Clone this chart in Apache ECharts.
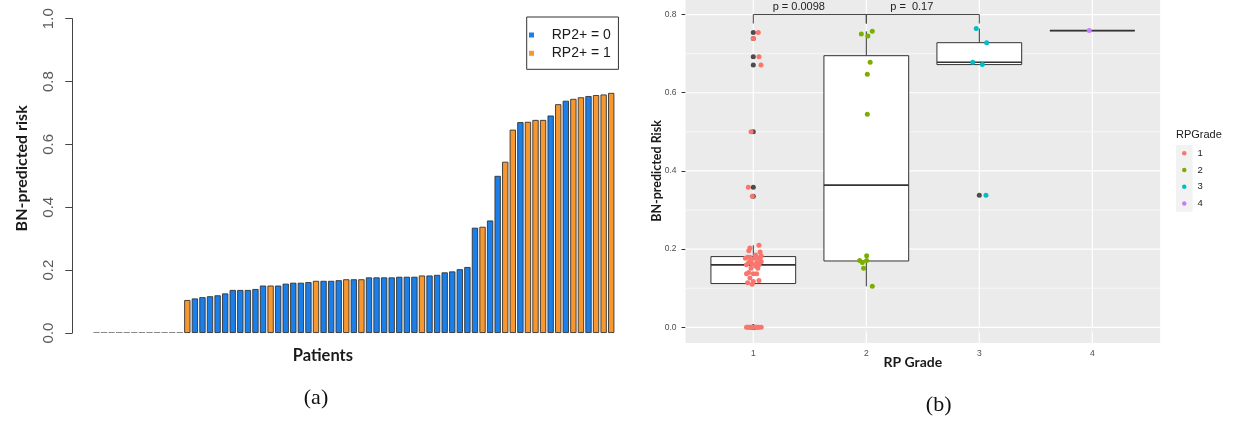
<!DOCTYPE html>
<html><head><meta charset="utf-8">
<script src="https://cdn.jsdelivr.net/npm/echarts@6/dist/echarts.min.js"></script>
<style>html,body{margin:0;padding:0;background:#fff}#c{width:1237px;height:422px}</style>
</head><body><div id="c"></div>
<script>
// ---------- DATA ----------
// BN-predicted risk of each patient, sorted ascending (panel a order)
const risk = [0,0,0,0,0,0,0,0,0,0,0,0,
  0.105,0.110,0.114,0.117,0.120,0.126,0.137,0.137,0.137,0.140,
  0.151,0.151,0.151,0.157,0.160,0.160,0.162,0.166,0.166,0.166,
  0.168,0.171,0.171,0.171,0.177,0.177,0.177,0.177,0.179,0.179,
  0.179,0.183,0.183,0.185,0.193,0.196,0.203,0.210,0.335,0.338,
  0.358,0.500,0.545,0.647,0.671,0.672,0.678,0.678,0.692,0.728,
  0.739,0.745,0.750,0.754,0.757,0.759,0.764];
// RP grade of each patient (same order)
const grade = [1,1,1,1,1,1,1,1,1,1,1,1,
  2,1,1,1,1,1,1,1,1,1,
  1,2,1,1,1,1,1,2,1,1,
  1,2,1,2,1,1,1,1,1,1,
  1,2,1,1,1,1,1,1,1,3,
  1,1,2,2,1,3,2,3,1,3,
  1,2,2,1,2,4,3];
// horizontal jitter of each point in panel b (category units)
const jitterX = [-0.06,-0.05,-0.04,-0.03,-0.02,-0.01,0.0,0.02,0.03,0.04,0.05,0.07,
  0.053,-0.01,-0.05,0.0,0.05,-0.03,-0.06,0.0,0.03,-0.04,
  0.04,-0.024,-0.02,0.02,-0.06,0.05,-0.01,-0.035,0.03,-0.04,
  0.07,-0.059,-0.02,0.003,0.05,-0.07,0.01,0.06,-0.03,0.03,
  -0.05,0.003,0.07,0.02,0.06,-0.04,-0.03,0.05,-0.009,0.059,
  -0.044,-0.02,0.009,0.009,0.068,0.027,0.034,-0.058,0.05,0.065,
  0.0,0.014,-0.044,0.044,0.053,-0.027,-0.027];
const legendA = ['RP2+ = 0', 'RP2+ = 1'];
const gradeNames = ['1', '2', '3', '4'];
const yTicksA = [0, 0.2, 0.4, 0.6, 0.8, 1.0];
const yTicksB = [0, 0.2, 0.4, 0.6, 0.8];
const yMinorB = [0.1, 0.3, 0.5, 0.7];
const xTicksB = [1, 2, 3, 4];
const comparisons = [[1, 2], [2, 3]];
const pLabels = ['p = 0.0098', 'p =  0.17'];
const bracketLevel = [0.8, 0.777];   // bracket line value, tip value

// ---------- STYLE ----------
const BLUE = '#1a7fe9', ORANGE = '#f7972f', ZERO = '#8a8a8a';
const gradeColors = ['#F8766D', '#7CAE00', '#00BFC4', '#C77CFF'];
const SANS = 'Liberation Sans', TITLE = 'Lato';

// ---------- DERIVED ----------
const patientIds = risk.map((_, i) => String(i + 1));
const bars0 = risk.map((v, i) => grade[i] < 2
  ? (v === 0 ? {value: 0, itemStyle: {color: ZERO, borderWidth: 0}} : v) : '-');
const bars1 = risk.map((v, i) => grade[i] >= 2 ? v : '-');

function q7(s, p) { const h = (s.length - 1) * p, lo = Math.floor(h), hi = Math.ceil(h); return s[lo] + (h - lo) * (s[hi] - s[lo]); }
function boxStats(vals) {
  const s = vals.slice().sort((a, b) => a - b);
  const q1 = q7(s, .25), med = q7(s, .5), q3 = q7(s, .75), iqr = q3 - q1;
  const lf = q1 - 1.5 * iqr - 1e-9, uf = q3 + 1.5 * iqr + 1e-9;
  const inside = s.filter(v => v >= lf && v <= uf);
  return {q1, med, q3, lo: Math.min(...inside), hi: Math.max(...inside), out: s.filter(v => v < lf || v > uf)};
}
const boxData = [], outData = [];
xTicksB.forEach(g => {
  const st = boxStats(risk.filter((v, i) => grade[i] === g));
  boxData.push([g, st.q1, st.med, st.q3, st.lo, st.hi]);
  st.out.forEach(v => outData.push([g, v]));
});
const jitterSeries = gradeNames.map((nm, k) => ({
  type: 'scatter', name: nm, xAxisIndex: 1, yAxisIndex: 1, z: 6,
  symbol: 'circle', symbolSize: 5, itemStyle: {color: gradeColors[k], opacity: 1},
  data: risk.map((v, i) => grade[i] === k + 1 ? [k + 1 + jitterX[i], v] : null).filter(d => d)
}));
const gridLineData = yTicksB.map(v => [0, v]).concat(yMinorB.map(v => [1, v]), xTicksB.map(v => [2, v]));
const bracketData = comparisons.map((c, k) => [c[0], c[1], bracketLevel[0], bracketLevel[1], k]);

const chart = echarts.init(document.getElementById('c'));
chart.setOption({
  animation: false,
  backgroundColor: '#fff',
  textStyle: {fontFamily: SANS},
  grid: [
    {left: 92.7, top: 18.7, width: 522.3, height: 314.3, outerBoundsMode: 'none'},
    {left: 685.5, top: -1.1, width: 474.6, height: 344.1, show: true, backgroundColor: '#EBEBEB', borderWidth: 0, outerBoundsMode: 'none'}
  ],
  xAxis: [
    {gridIndex: 0, type: 'category', data: patientIds,
     axisLine: {show: false}, axisTick: {show: false}, axisLabel: {show: false}, splitLine: {show: false},
     name: 'Patients', nameLocation: 'middle', nameGap: 14, nameMoveOverlap: false,
     nameTextStyle: {fontFamily: TITLE, fontWeight: 'bold', fontSize: 16.5, color: '#1a1a1a', padding: [0, 62, 0, 0]}},
    {gridIndex: 1, type: 'value', min: 0.4, max: 4.6,
     axisLine: {show: false}, splitLine: {show: false},
     axisTick: {show: true, customValues: xTicksB, length: 4, lineStyle: {color: '#333'}},
     axisLabel: {customValues: xTicksB, color: '#4d4d4d', fontSize: 8.5, margin: 6, formatter: v => String(v)},
     name: 'RP Grade', nameLocation: 'middle', nameGap: 12.5, nameMoveOverlap: false,
     nameTextStyle: {fontFamily: TITLE, fontWeight: 'bold', fontSize: 14, color: '#1a1a1a', padding: [0, 20, 0, 0]}}
  ],
  yAxis: [
    {gridIndex: 0, type: 'value', min: 0, max: 1, interval: 0.2, offset: 20.4,
     axisLine: {show: true, lineStyle: {color: '#444', width: 1}},
     axisTick: {show: true, length: 7, lineStyle: {color: '#444'}},
     axisLabel: {rotate: 90, margin: 16, color: '#5a5a5a', fontSize: 15, formatter: v => v.toFixed(1)},
     splitLine: {show: false},
     name: 'BN-predicted risk', nameLocation: 'middle', nameGap: 42, nameMoveOverlap: false,
     nameTextStyle: {fontFamily: TITLE, fontWeight: 'bold', fontSize: 16, color: '#1a1a1a', padding: [0, 0, 0, 15]}},
    {gridIndex: 1, type: 'value', min: -0.04, max: 0.84,
     axisLine: {show: false}, splitLine: {show: false},
     axisTick: {show: true, customValues: yTicksB, length: 4, lineStyle: {color: '#333'}},
     axisLabel: {customValues: yTicksB, color: '#4d4d4d', fontSize: 8.5, margin: 9, formatter: v => v.toFixed(1)},
     name: 'BN-predicted Risk', nameLocation: 'middle', nameGap: 22.5, nameMoveOverlap: false,
     nameTextStyle: {fontFamily: TITLE, fontWeight: 'bold', fontSize: 12.5, color: '#1a1a1a'}}
  ],
  legend: [
    {data: legendA, orient: 'vertical', left: 526.7, top: 17, padding: [10, 7.6, 8, 2.3],
     borderColor: '#333', borderWidth: 1, backgroundColor: '#fff',
     itemWidth: 5, itemHeight: 5, itemGap: 2.3, icon: 'rect', selectedMode: false,
     itemStyle: {borderWidth: 0},
     textStyle: {fontSize: 14, lineHeight: 16, color: '#1a1a1a', fontFamily: SANS, padding: [0, 0, 0, 12.7]}},
    {data: gradeNames, orient: 'vertical', left: 1182, top: 147.3,
     itemWidth: 4.5, itemHeight: 4.5, itemGap: 4.7, icon: 'circle', selectedMode: false, padding: 0,
     textStyle: {fontSize: 9.5, lineHeight: 12, color: '#1a1a1a', fontFamily: SANS, padding: [0, 0, 0, 6]}}
  ],
  graphic: [
    {type: 'rect', left: 1176, top: 145, shape: {width: 16.7, height: 66.8}, style: {fill: '#F2F2F2'}},
    {type: 'text', left: 1176, top: 129.5, style: {text: 'RPGrade', fontSize: 11, fill: '#1a1a1a', fontFamily: SANS}},
    {type: 'text', x: 316, y: 398, style: {text: '(a)', fontSize: 22, fill: '#111', fontFamily: 'Liberation Serif', align: 'center', verticalAlign: 'middle'}},
    {type: 'text', x: 938.7, y: 405, style: {text: '(b)', fontSize: 22, fill: '#111', fontFamily: 'Liberation Serif', align: 'center', verticalAlign: 'middle'}}
  ],
  series: [
    {type: 'bar', name: legendA[0], xAxisIndex: 0, yAxisIndex: 0, data: bars0,
     barGap: '-100%', barCategoryGap: '16.67%', barMinHeight: 1,
     itemStyle: {color: BLUE, borderColor: '#333', borderWidth: 0.9}},
    {type: 'bar', name: legendA[1], xAxisIndex: 0, yAxisIndex: 0, data: bars1,
     barGap: '-100%', barCategoryGap: '16.67%',
     itemStyle: {color: ORANGE, borderColor: '#333', borderWidth: 0.9}},
    {type: 'custom', xAxisIndex: 1, yAxisIndex: 1, z: 1, silent: true, data: gridLineData,
     renderItem(params, api) {
       const kind = api.value(0), v = api.value(1), cs = params.coordSys;
       if (kind === 2) {
         const p = api.coord([v, 0]);
         return {type: 'line', shape: {x1: p[0], y1: cs.y, x2: p[0], y2: cs.y + cs.height}, style: {stroke: '#fff', lineWidth: 1.2}};
       }
       const p = api.coord([1, v]);
       return {type: 'line', shape: {x1: cs.x, y1: p[1], x2: cs.x + cs.width, y2: p[1]},
               style: {stroke: '#fff', lineWidth: kind === 0 ? 1.2 : 0.6}};
     }},
    {type: 'custom', xAxisIndex: 1, yAxisIndex: 1, z: 3, silent: true, data: boxData,
     renderItem(params, api) {
       const x = api.value(0), q1 = api.value(1), med = api.value(2), q3 = api.value(3), lo = api.value(4), hi = api.value(5);
       const hw = 0.375, st = '#333';
       const tl = api.coord([x - hw, q3]), br = api.coord([x + hw, q1]);
       const c = api.coord([x, med]), pHi = api.coord([x, hi]), pLo = api.coord([x, lo]);
       return {type: 'group', children: [
         {type: 'line', shape: {x1: c[0], y1: pHi[1], x2: c[0], y2: tl[1]}, style: {stroke: st, lineWidth: 1}},
         {type: 'line', shape: {x1: c[0], y1: br[1], x2: c[0], y2: pLo[1]}, style: {stroke: st, lineWidth: 1}},
         {type: 'rect', shape: {x: tl[0], y: tl[1], width: br[0] - tl[0], height: br[1] - tl[1]}, style: {fill: '#fff', stroke: st, lineWidth: 1}},
         {type: 'line', shape: {x1: tl[0], y1: c[1], x2: br[0], y2: c[1]}, style: {stroke: st, lineWidth: 1.7}}
       ]};
     }},
    {type: 'scatter', xAxisIndex: 1, yAxisIndex: 1, z: 4, silent: true, data: outData,
     symbol: 'circle', symbolSize: 5, itemStyle: {color: '#222'}},
    ...jitterSeries,
    {type: 'custom', xAxisIndex: 1, yAxisIndex: 1, z: 7, silent: true, data: bracketData,
     renderItem(params, api) {
       const x1 = api.value(0), x2 = api.value(1), y = api.value(2), tip = api.value(3), k = api.value(4);
       const a = api.coord([x1, y]), b = api.coord([x2, y]), at = api.coord([x1, tip]), bt = api.coord([x2, tip]);
       return {type: 'group', children: [
         {type: 'polyline', shape: {points: [at, a, b, bt]}, style: {stroke: '#444', lineWidth: 1, fill: null}},
         {type: 'text', style: {text: pLabels[k], x: (a[0] + b[0]) / 2 - 11, y: a[1] - 2.5, align: 'center', verticalAlign: 'bottom',
                                fontSize: 11, fill: '#222', fontFamily: SANS}}
       ]};
     }}
  ]
});
</script></body></html>
